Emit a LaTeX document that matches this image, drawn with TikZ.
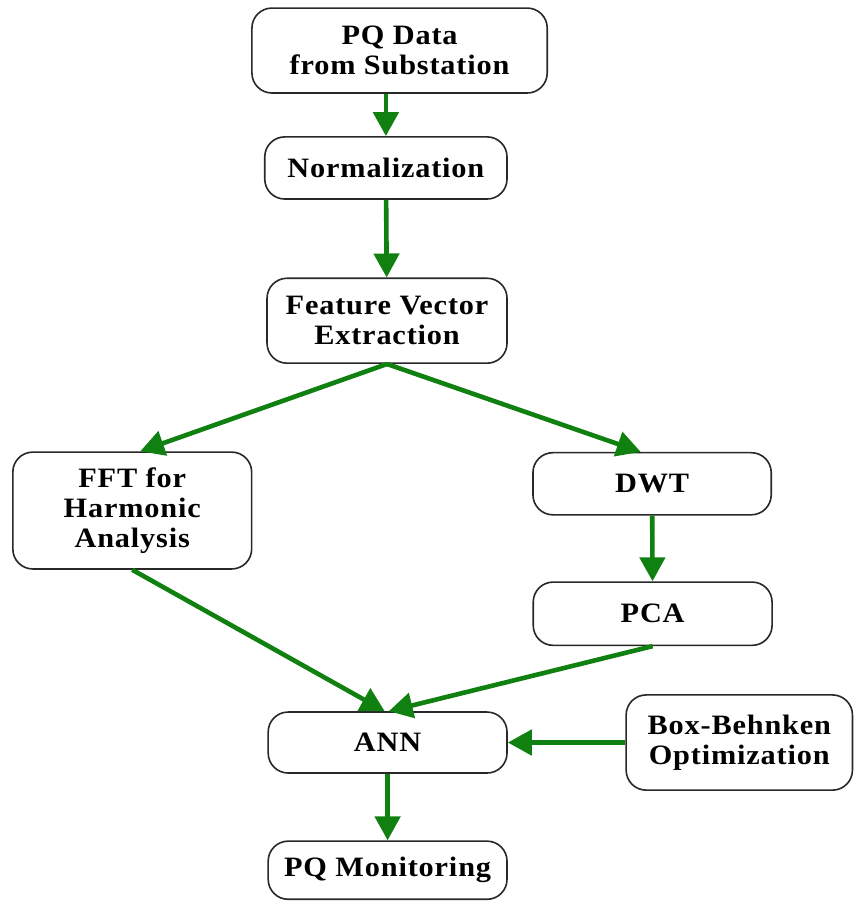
\documentclass[tikz,border=0pt]{standalone}
\usepackage{fontspec}
\setmainfont{Liberation Serif}[FakeStretch=1.08, LetterSpace=3]
\usepackage{xcolor}
\definecolor{verde}{RGB}{16,128,16}
\definecolor{borda}{RGB}{40,40,40}
\usepackage{tikz}
\usetikzlibrary{arrows.meta, positioning, calc}

\begin{document}
\begin{tikzpicture}[
    block/.style={rectangle, rounded corners=0.35cm, draw=borda, line width=0.8pt,
                  fill=white, align=center, inner sep=2pt,
                  font=\fontsize{14}{14.8}\selectfont\bfseries},
    flow/.style={-{Triangle[length=4.2mm, width=4.4mm]}, verde, line width=2.3pt}
  ]
  \useasboundingbox (0,0) rectangle (15,15.807);

  % Main column
  \node[block, minimum width=5.18cm, minimum height=1.49cm] (pq)   at (7.01,14.92) {PQ Data\\from Substation};
  \node[block, minimum width=4.25cm, minimum height=1.09cm] (norm) at (6.77,12.86) {Normalization};
  \node[block, minimum width=4.21cm, minimum height=1.49cm] (feat) at (6.79,10.18) {Feature Vector\\Extraction};

  % Two branches
  \node[block, minimum width=4.19cm, minimum height=2.05cm] (fft) at (2.32,6.85)  {FFT for\\Harmonic\\Analysis};
  \node[block, minimum width=4.18cm, minimum height=1.09cm] (dwt) at (11.44,7.32) {DWT};
  \node[block, minimum width=4.19cm, minimum height=1.11cm] (pca) at (11.45,5.04) {PCA};

  % Classifier and output
  \node[block, minimum width=4.19cm, minimum height=1.07cm] (ann) at (6.80,2.78)  {ANN};
  \node[block, minimum width=3.97cm, minimum height=1.67cm] (bbd) at (12.97,2.78) {Box-Behnken\\Optimization};
  \node[block, minimum width=4.19cm, minimum height=1.02cm] (mon) at (6.80,0.54)  {PQ Monitoring};

  % Connectors
  \draw[flow] (pq.south -| norm) -- (norm);
  \draw[flow] (norm) -- (feat);
  \draw[flow] (feat.south) -- ($(fft.north)+(0.14,0)$);
  \draw[flow] (feat.south) -- ($(dwt.north)+(-0.2,0)$);
  \draw[flow] (dwt) -- (pca);
  \draw[flow] (fft.south) -- ($(ann.north)+(-0.05,0)$);
  \draw[flow] (pca.south) -- ($(ann.north)+(0.02,0)$);
  \draw[flow] (bbd) -- (ann);
  \draw[flow] (ann) -- (mon);
\end{tikzpicture}
\end{document}
